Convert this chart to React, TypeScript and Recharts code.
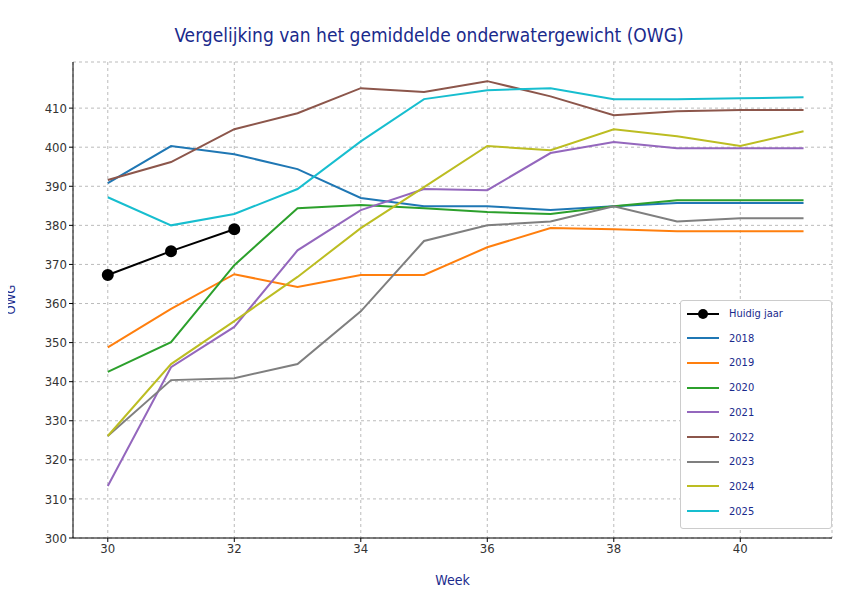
import React from 'react';
import { LineChart, Line, XAxis, YAxis, CartesianGrid } from 'recharts';

const weeks = [30, 31, 32, 33, 34, 35, 36, 37, 38, 39, 40, 41];
const current = [367.3, 373.4, 379.0];
const y2018 = [390.8, 400.3, 398.2, 394.4, 387.0, 384.9, 384.9, 383.9, 384.9, 385.7, 385.7, 385.7];
const y2019 = [348.8, 358.6, 367.5, 364.2, 367.3, 367.3, 374.4, 379.3, 379.0, 378.5, 378.5, 378.5];
const y2020 = [342.5, 350.1, 369.8, 384.4, 385.2, 384.4, 383.4, 382.9, 384.9, 386.4, 386.4, 386.4];
const y2021 = [313.3, 343.7, 354.0, 373.6, 383.9, 389.3, 389.0, 398.5, 401.3, 399.7, 399.7, 399.7];
const y2022 = [391.6, 396.2, 404.6, 408.7, 415.1, 414.1, 416.9, 413.0, 408.2, 409.2, 409.5, 409.5];
const y2023 = [326.1, 340.4, 340.9, 344.5, 358.0, 376.0, 380.0, 381.0, 384.9, 381.0, 381.8, 381.8];
const y2024 = [326.1, 344.5, 355.5, 366.8, 379.3, 389.8, 400.3, 399.2, 404.6, 402.8, 400.3, 404.1];
const y2025 = [387.2, 380.0, 382.9, 389.3, 401.5, 412.3, 414.6, 415.1, 412.3, 412.3, 412.5, 412.8];
const yTicks = [300, 310, 320, 330, 340, 350, 360, 370, 380, 390, 400, 410];
const xTicks = [30, 32, 34, 36, 38, 40];

const series = [
  { key: '2018', values: y2018, color: '#1f77b4' },
  { key: '2019', values: y2019, color: '#ff7f0e' },
  { key: '2020', values: y2020, color: '#2ca02c' },
  { key: '2021', values: y2021, color: '#9467bd' },
  { key: '2022', values: y2022, color: '#8c564b' },
  { key: '2023', values: y2023, color: '#7f7f7f' },
  { key: '2024', values: y2024, color: '#bcbd22' },
  { key: '2025', values: y2025, color: '#17becf' },
];

const data = weeks.map((w, i) => {
  const row: Record<string, number | undefined> = { week: w, huidig: current[i] };
  series.forEach(s => { row[s.key] = s.values[i]; });
  return row;
});

const navy = '#1a2a8c';
const font = '"DejaVu Sans Condensed", "Liberation Sans Narrow", "Roboto", sans-serif';

export default function App() {
  return (
    <div style={{ position: 'relative', width: 858, height: 599, margin: -8, background: '#fff', fontFamily: font }}>
      <div style={{ position: 'absolute', top: 24, width: 858, textAlign: 'center', color: navy, fontSize: 19 }}>
        Vergelijking van het gemiddelde onderwatergewicht (OWG)
      </div>
      <div style={{ position: 'absolute', top: 572, left: 73, width: 759, textAlign: 'center', color: navy, fontSize: 14 }}>Week</div>
      <div style={{ position: 'absolute', top: 292, left: -4, transform: 'rotate(-90deg)', color: navy, fontSize: 13 }}>OWG</div>
      <LineChart width={858} height={599} data={data} margin={{ top: 62, right: 26, bottom: 31, left: 0 }}>
        <CartesianGrid stroke="#bbb" strokeDasharray="3 3" />
        <XAxis dataKey="week" type="number" domain={[29.45, 41.45]} ticks={xTicks} allowDataOverflow height={30}
          stroke="#000" tick={{ fill: '#333', fontSize: 13, fontFamily: font }} tickSize={4} />
        <XAxis xAxisId="top" orientation="top" dataKey="week" type="number" domain={[29.45, 41.45]} tick={false} tickLine={false} stroke="#000" height={0} />
        <YAxis domain={[300, 421.8]} ticks={yTicks} allowDataOverflow width={73} stroke="#000"
          tick={{ fill: '#333', fontSize: 13, fontFamily: font }} tickSize={4} />
        <YAxis yAxisId="right" orientation="right" domain={[300, 421.8]} tick={false} tickLine={false} stroke="#000" width={0} />
        {series.map(s => (
          <Line key={s.key} dataKey={s.key} stroke={s.color} strokeWidth={2} dot={false} isAnimationActive={false} />
        ))}
        <Line dataKey="huidig" stroke="#000" strokeWidth={2} dot={{ r: 5, fill: '#000', stroke: '#000' }} isAnimationActive={false} />
      </LineChart>
      <div style={{ position: 'absolute', left: 680, top: 300, width: 150, height: 227, border: '1px solid #ccc', borderRadius: 3, background: '#fff', fontSize: 11, color: navy }}>
        {[{ key: 'Huidig jaar', color: '#000', dot: true }, ...series.map(s => ({ key: s.key, color: s.color, dot: false }))].map((s, i) => (
          <div key={s.key} style={{ position: 'absolute', top: 6 + i * 24.7, left: 6, display: 'flex', alignItems: 'center' }}>
            <svg width={32} height={12}>
              <line x1={0} y1={6} x2={32} y2={6} stroke={s.color} strokeWidth={2} />
              {s.dot && <circle cx={16} cy={6} r={5} fill="#000" />}
            </svg>
            <span style={{ marginLeft: 10 }}>{s.key}</span>
          </div>
        ))}
      </div>
    </div>
  );
}
